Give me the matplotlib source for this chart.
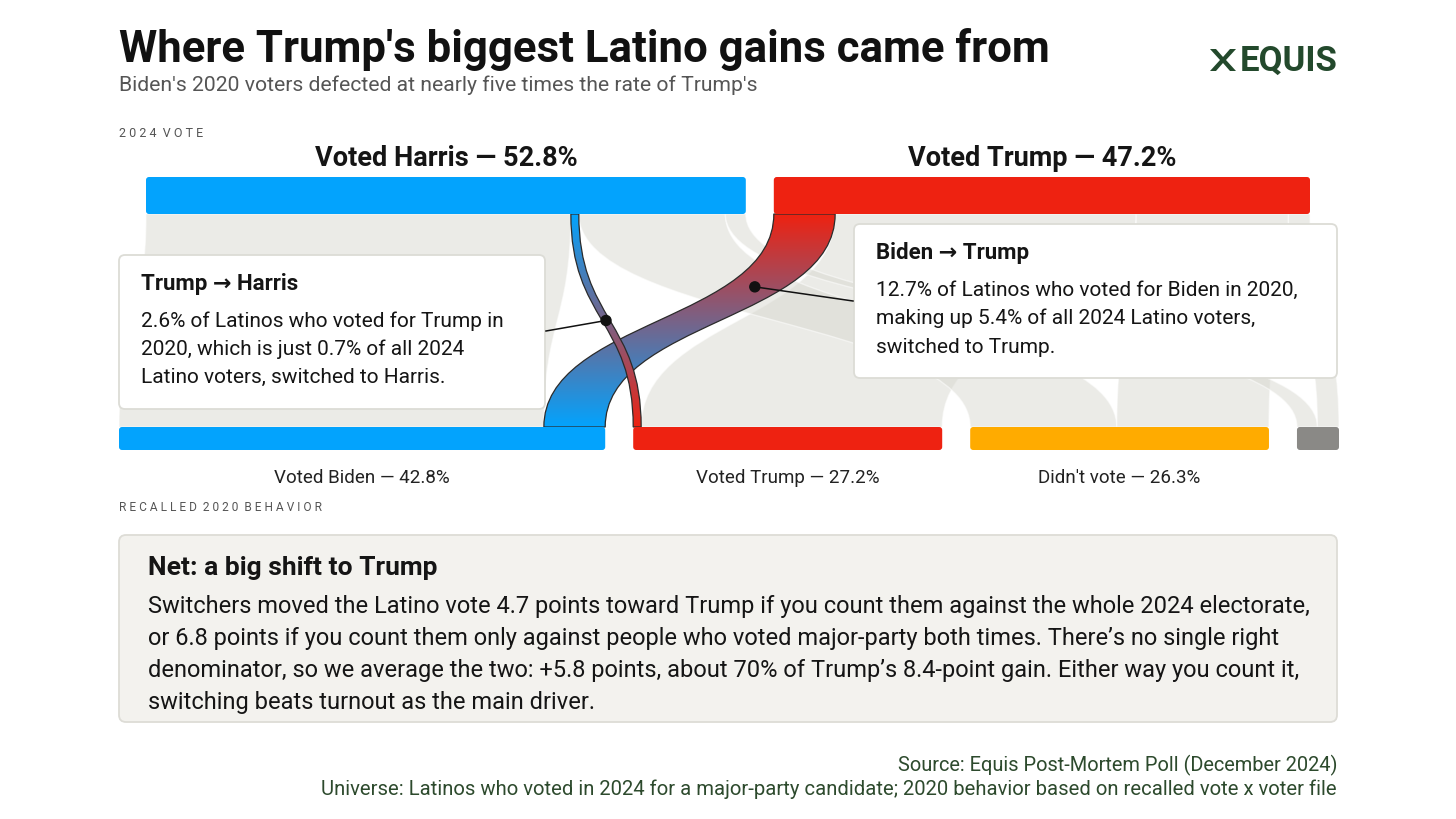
import matplotlib
matplotlib.use('Agg')
import matplotlib.pyplot as plt
import numpy as np
from matplotlib.path import Path
from matplotlib.patches import PathPatch, FancyBboxPatch, Circle, Polygon

plt.rcParams['font.family'] = ['Roboto', 'DejaVu Sans']

# --- data (percent of 2024 Latino voters) ---
top_labels = ['Voted Harris', 'Voted Trump']
top_vals = [52.8, 47.2]
bottom_labels = ['Voted Biden', 'Voted Trump', "Didn't vote", '']
bottom_vals = [42.8, 27.2, 26.3, 3.7]
to_harris = [37.4, 0.7, 12.9, 1.8]   # from Biden, Trump, didn't vote, other
to_trump = [5.4, 26.5, 13.4, 1.9]

top_colors = ['#03a3fd', '#ee2211']
bottom_colors = ['#03a3fd', '#ee2211', '#ffab00', '#8a8986']

W, H = 1456, 819
fig = plt.figure(figsize=(W / 100, H / 100), dpi=100)
ax = fig.add_axes([0, 0, 1, 1])
ax.set_xlim(0, W)
ax.set_ylim(H, 0)
ax.axis('off')

scale = 11.36      # px per percentage point
gap = 28
top_x0, bot_x0 = 146, 119
top_y0, top_y1 = 177, 214
bot_y0, bot_y1 = 427, 450

def starts(x0, vals):
    out = []
    x = x0
    for v in vals:
        out.append(x)
        x += v * scale + gap
    return out

top_start = starts(top_x0, top_vals)
bot_start = starts(bot_x0, bottom_vals)

def bar(x, w, y0, y1, color):
    ax.add_patch(FancyBboxPatch((x, y0), w, y1 - y0,
                                boxstyle='round,pad=0,rounding_size=3',
                                fc=color, ec='none', zorder=5))

for x, v, c in zip(top_start, top_vals, top_colors):
    bar(x, v * scale, top_y0, top_y1, c)
for x, v, c in zip(bot_start, bottom_vals, bottom_colors):
    bar(x, v * scale, bot_y0, bot_y1, c)

# flow slots: top bars take sources in order, bottom bars give Harris first
tslots = {}
for j, arr in enumerate([to_harris, to_trump]):
    x = top_start[j]
    for i, v in enumerate(arr):
        tslots[(i, j)] = (x, x + v * scale)
        x += v * scale
bslots = {}
for i in range(4):
    x = bot_start[i]
    for j, arr in enumerate([to_harris, to_trump]):
        v = arr[i]
        bslots[(i, j)] = (x, x + v * scale)
        x += v * scale

def flow_path(i, j):
    (b0, b1), (t0, t1) = bslots[(i, j)], tslots[(i, j)]
    ym = (bot_y0 + top_y1) / 2
    verts = [(b0, bot_y0), (b0, ym), (t0, ym), (t0, top_y1),
             (t1, top_y1), (t1, ym), (b1, ym), (b1, bot_y0), (b0, bot_y0)]
    codes = [Path.MOVETO, Path.CURVE4, Path.CURVE4, Path.CURVE4,
             Path.LINETO, Path.CURVE4, Path.CURVE4, Path.CURVE4, Path.CLOSEPOLY]
    return Path(verts, codes)

def centre_at(i, j, t):
    (b0, b1), (t0, t1) = bslots[(i, j)], tslots[(i, j)]
    xb, xt = (b0 + b1) / 2, (t0 + t1) / 2
    ym = (bot_y0 + top_y1) / 2
    p = np.array([[xb, bot_y0], [xb, ym], [xt, ym], [xt, top_y1]])
    c = np.array([(1 - t) ** 3, 3 * (1 - t) ** 2 * t, 3 * (1 - t) * t ** 2, t ** 3])
    return c @ p

highlight = [(0, 1), (1, 0)]
for i in range(4):
    for j in range(2):
        if (i, j) in highlight:
            continue
        ax.add_patch(PathPatch(flow_path(i, j), fc='#d9d9d1', ec='white',
                               lw=1.0, alpha=0.5, zorder=2))

def grad_flow(i, j, z):
    path = flow_path(i, j)
    patch = PathPatch(path, fc='none', ec='#2b2b2b', lw=0.9, zorder=z + 0.1)
    ax.add_patch(patch)
    cb = np.array(matplotlib.colors.to_rgb(bottom_colors[i]))
    ct = np.array(matplotlib.colors.to_rgb(top_colors[j]))
    t = np.linspace(0, 1, 256)[:, None]
    img = (cb * (1 - t) + ct * t)[:, None, :]
    xs = path.vertices[:, 0]
    im = ax.imshow(img, extent=(xs.min(), xs.max(), bot_y0, top_y1),
                   origin='lower', aspect='auto', zorder=z, interpolation='bilinear')
    im.set_clip_path(PathPatch(path, transform=ax.transData))
    ax.set_xlim(0, W)
    ax.set_ylim(H, 0)

grad_flow(0, 1, 3)
grad_flow(1, 0, 3.5)

# --- callouts ---
def callout(x0, y0, x1, y1):
    ax.add_patch(FancyBboxPatch((x0, y0), x1 - x0, y1 - y0,
                                boxstyle='round,pad=0,rounding_size=6',
                                fc='white', ec='#dcdcd6', lw=1.3, zorder=6))

callout(119, 255, 545, 409)
callout(854, 224, 1337, 378)

d1 = centre_at(1, 0, 0.5)
d2 = centre_at(0, 1, 0.7)
ax.plot([546, d1[0]], [331, d1[1]], color='#111', lw=1.1, zorder=7)
ax.plot([853, d2[0]], [301, d2[1]], color='#111', lw=1.1, zorder=7)
for d in (d1, d2):
    ax.add_patch(Circle(d, 5, color='#111', zorder=8))

ink = '#151515'
ax.text(141, 290, 'Trump → Harris', fontsize=16, fontweight='bold', color=ink, zorder=9)
for k, line in enumerate(['2.6% of Latinos who voted for Trump in',
                          '2020, which is just 0.7% of all 2024',
                          'Latino voters, switched to Harris.']):
    ax.text(141, 327 + 28 * k, line, fontsize=15, color=ink, zorder=9)

ax.text(876, 259, 'Biden → Trump', fontsize=16, fontweight='bold', color=ink, zorder=9)
for k, line in enumerate(['12.7% of Latinos who voted for Biden in 2020,',
                          'making up 5.4% of all 2024 Latino voters,',
                          'switched to Trump.']):
    ax.text(876, 296 + 28.5 * k, line, fontsize=15, color=ink, zorder=9)

# --- headings and labels ---
ax.text(119, 62, "Where Trump's biggest Latino gains came from", fontsize=31.5,
        fontweight='bold', color='#111')
ax.text(119, 91, "Biden's 2020 voters defected at nearly five times the rate of Trump's",
        fontsize=15.2, color='#555')
ax.text(119, 137, '2 0 2 4  V O T E', fontsize=9, color='#555')
ax.text(119, 511, 'R E C A L L E D  2 0 2 0  B E H A V I O R', fontsize=8.6, color='#555')

for x, v, lab in zip(top_start, top_vals, top_labels):
    ax.text(x + v * scale / 2, 166, f'{lab} — {v}%', fontsize=19.5,
            fontweight='bold', ha='center', color=ink)
for x, v, lab in zip(bot_start, bottom_vals, bottom_labels):
    if lab:
        ax.text(x + v * scale / 2, 483, f'{lab} — {v}%', fontsize=13.5,
                ha='center', color='#222')

# --- net box ---
ax.add_patch(FancyBboxPatch((119, 535), 1337 - 119, 722 - 535,
                            boxstyle='round,pad=0,rounding_size=7',
                            fc='#f3f2ee', ec='#dddcd6', lw=1.3, zorder=1))
ax.text(148, 575, 'Net: a big shift to Trump', fontsize=19, fontweight='bold', color=ink)
net_lines = [
    'Switchers moved the Latino vote 4.7 points toward Trump if you count them against the whole 2024 electorate,',
    'or 6.8 points if you count them only against people who voted major-party both times. There’s no single right',
    'denominator, so we average the two: +5.8 points, about 70% of Trump’s 8.4-point gain. Either way you count it,',
    'switching beats turnout as the main driver.',
]
for k, line in enumerate(net_lines):
    ax.text(148, 613 + 32 * k, line, fontsize=17, color=ink)

# --- source ---
green = '#2d4a2d'
ax.text(1337, 771, 'Source: Equis Post-Mortem Poll (December 2024)', fontsize=14.4,
        ha='right', color=green)
ax.text(1337, 795, 'Universe: Latinos who voted in 2024 for a major-party candidate; '
        '2020 behavior based on recalled vote x voter file', fontsize=14.55,
        ha='right', color=green)

# --- logo ---
logo = '#23492c'
ax.add_patch(Polygon([(1210, 49), (1216, 49), (1223, 57), (1230, 49), (1236, 49),
                      (1226, 60), (1223, 60), (1220, 60)], closed=True,
                     fc=logo, ec='none'))
ax.add_patch(Polygon([(1210, 71), (1216, 71), (1223, 63), (1230, 71), (1236, 71),
                      (1226, 60), (1220, 60)], closed=True, fc=logo, ec='none'))
ax.text(1338, 71, 'EQUIS', fontsize=25, fontweight='bold', ha='right', color=logo)

fig.savefig('out.png', dpi=100)
